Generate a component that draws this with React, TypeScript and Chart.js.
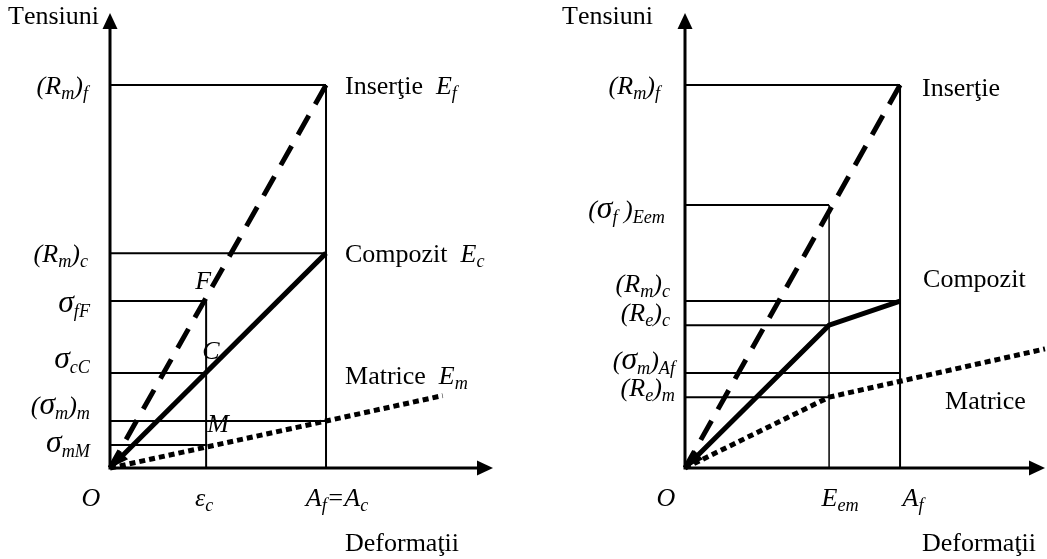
import { useEffect, useRef } from "react";
import { Chart, registerables } from "chart.js";

Chart.register(...registerables);

// ---------- Left diagram: linear-elastic insert, matrix and composite ----------
const L_X_MAX = 17.73;
const L_STRAIN_VALUES = [0, 4.45, 10];
const L_STRAIN_LABELS = ["$O$", "$ε_c$", "$A_f=A_c$"];
const L_STRESS_VALUES = [100, 56.1, 43.6, 24.8, 12.3, 6.0];
const L_STRESS_LABELS = ["$(R_m)_f$", "$(R_m)_c$", "$σ_{fF}$", "$σ_{cC}$", "$(σ_m)_m$", "$σ_{mM}$"];
const L_STRESS_REACH = [10, 10, 4.45, 4.45, 10, 4.45];
const L_VERTICAL_X = [10, 4.45];
const L_VERTICAL_TOP = [100, 43.6];
const L_INSERT_X = [10, 0];
const L_INSERT_Y = [100, 0];
const L_COMPOSITE_X = [0, 10];
const L_COMPOSITE_Y = [0, 56.1];
const L_MATRIX_X = [0, 15.4];
const L_MATRIX_Y = [0, 18.9];
const L_SERIES_NAMES = ["Inserţie  $E_f$", "Compozit  $E_c$", "Matrice  $E_m$"];
const L_POINT_NAMES = ["$F$", "$C$", "$M$"];
const L_POINT_X = [4.45, 4.45, 4.45];
const L_POINT_Y = [43.6, 24.8, 6.0];

// ---------- Right diagram: elastic-plastic matrix ----------
const R_X_MAX = 16.74;
const R_STRAIN_VALUES = [0, 6.7, 10];
const R_STRAIN_LABELS = ["$O$", "$E_{em}$", "$A_f$"];
const R_STRESS_VALUES = [100, 68.7, 43.6, 37.3, 24.8, 18.5];
const R_STRESS_LABELS = ["$(R_m)_f$", "$(σ_f )_{Eem}$", "$(R_m)_c$", "$(R_e)_c$", "$(σ_m)_{Af}$", "$(R_e)_m$"];
const R_STRESS_REACH = [10, 6.7, 10, 6.7, 10, 6.7];
const R_VERTICAL_X = [10, 6.7];
const R_VERTICAL_TOP = [100, 68.7];
const R_INSERT_X = [10, 0];
const R_INSERT_Y = [100, 0];
const R_COMPOSITE_X = [0, 6.7, 10];
const R_COMPOSITE_Y = [0, 37.3, 43.6];
const R_MATRIX_X = [0, 6.7, 16.74];
const R_MATRIX_Y = [0, 18.5, 31.1];
const R_SERIES_NAMES = ["Inserţie", "Compozit", "Matrice"];

const Y_MAX = 118.8;
const Y_TITLE = "Tensiuni";
const X_TITLE = "Deformaţii";

const FONT = "'Liberation Serif', 'Times New Roman', serif";
const SIZE = 26;
const SUB_SCALE = 0.7;
const SUB_DROP = 0.19;
const SIGMA_SCALE = 1.22;

type Run = { text: string; italic: boolean; sub: boolean };

function parseRich(src: string): Run[] {
  const runs: Run[] = [];
  let italic = false;
  let buf = "";
  const flush = () => {
    if (buf) {
      runs.push({ text: buf, italic, sub: false });
      buf = "";
    }
  };
  for (let i = 0; i < src.length; i++) {
    const ch = src[i];
    if (ch === "$") {
      flush();
      italic = !italic;
      continue;
    }
    if (ch === "_") {
      flush();
      let s = "";
      if (src[i + 1] === "{") {
        const end = src.indexOf("}", i + 2);
        s = src.slice(i + 2, end);
        i = end;
      } else {
        s = src[i + 1];
        i++;
      }
      runs.push({ text: s, italic, sub: true });
      continue;
    }
    buf += ch;
  }
  flush();
  return runs;
}

// Draws mixed italic / subscript text; cy is the visual middle of capitals.
function drawRich(
  ctx: CanvasRenderingContext2D,
  src: string,
  x: number,
  cy: number,
  align: "left" | "center" | "right",
  size = SIZE
) {
  const pieces: { ch: string; font: string; w: number; dy: number }[] = [];
  for (const r of parseRich(src)) {
    for (const ch of r.text) {
      let s = r.sub ? size * SUB_SCALE : size;
      if (ch === "σ") s *= SIGMA_SCALE;
      const font = `${r.italic ? "italic " : ""}${s.toFixed(1)}px ${FONT}`;
      ctx.font = font;
      pieces.push({ ch, font, w: ctx.measureText(ch).width, dy: r.sub ? size * SUB_DROP : 0 });
    }
  }
  const total = pieces.reduce((a, p) => a + p.w, 0);
  let cx = align === "left" ? x : align === "center" ? x - total / 2 : x - total;
  const base = cy + size * 0.33;
  ctx.textAlign = "left";
  ctx.textBaseline = "alphabetic";
  ctx.fillStyle = "#000";
  for (const p of pieces) {
    ctx.font = p.font;
    ctx.fillText(p.ch, cx, base + p.dy);
    cx += p.w;
  }
}

function arrowHead(ctx: CanvasRenderingContext2D, tx: number, ty: number, fx: number, fy: number, len: number, half: number) {
  const d = Math.hypot(tx - fx, ty - fy);
  const ux = (tx - fx) / d;
  const uy = (ty - fy) / d;
  const bx = tx - ux * len;
  const by = ty - uy * len;
  ctx.beginPath();
  ctx.moveTo(tx, ty);
  ctx.lineTo(bx - uy * half, by + ux * half);
  ctx.lineTo(bx + uy * half, by - ux * half);
  ctx.closePath();
  ctx.fill();
}

type Layout = {
  stressDx: number[];
  stressDy: number[];
  strainDx: number[];
  seriesAnchorX: number[];
  seriesAnchorY: number[];
  seriesDx: number[];
  seriesDy: number[];
  titleX: number;
  xTitleX: number;
};

type Spec = {
  xMax: number;
  strainValues: number[];
  strainLabels: string[];
  stressValues: number[];
  stressLabels: string[];
  stressReach: number[];
  verticalX: number[];
  verticalTop: number[];
  verticalWidth: number[];
  insertX: number[];
  insertY: number[];
  compositeX: number[];
  compositeY: number[];
  matrixX: number[];
  matrixY: number[];
  seriesNames: string[];
  pointNames?: string[];
  pointX?: number[];
  pointY?: number[];
  pointDx?: number[];
  pointDy?: number[];
  layout: Layout;
  padLeft: number;
  padRight: number;
};

const pts = (xs: number[], ys: number[]) => xs.map((x, i) => ({ x, y: ys[i] }));

function buildConfig(spec: Spec): any {
  const guides = spec.stressValues.map((v, i) => ({
    data: pts([0, spec.stressReach[i]], [v, v]),
    borderColor: "#000",
    borderWidth: 2,
  }));
  const verticals = spec.verticalX.map((x, i) => ({
    data: pts([x, x], [0, spec.verticalTop[i]]),
    borderColor: "#000",
    borderWidth: spec.verticalWidth[i],
  }));
  const series = [
    { data: pts(spec.insertX, spec.insertY), borderColor: "#000", borderWidth: 5, borderDash: [22, 13] },
    { data: pts(spec.compositeX, spec.compositeY), borderColor: "#000", borderWidth: 5 },
    { data: pts(spec.matrixX, spec.matrixY), borderColor: "#000", borderWidth: 5, borderDash: [6, 4] },
  ];
  const datasets = [...guides, ...verticals, ...series].map((d) => ({
    ...d,
    showLine: true,
    pointRadius: 0,
    tension: 0,
    fill: false,
    clip: false,
    borderCapStyle: "butt",
    borderJoinStyle: "miter",
  }));

  const annotate = {
    id: "diagramAnnotations",
    afterDatasetsDraw(chart: any) {
      const ctx: CanvasRenderingContext2D = chart.ctx;
      const xs = chart.scales.x;
      const ys = chart.scales.y;
      const ox = xs.getPixelForValue(0);
      const oy = ys.getPixelForValue(0);
      const topY = ys.getPixelForValue(Y_MAX);
      const endX = xs.getPixelForValue(spec.xMax);
      const L = spec.layout;
      ctx.save();
      ctx.fillStyle = "#000";
      ctx.strokeStyle = "#000";
      ctx.lineWidth = 3;
      ctx.lineCap = "butt";
      // axes with arrows
      ctx.beginPath();
      ctx.moveTo(ox, oy + 1.5);
      ctx.lineTo(ox, topY + 12);
      ctx.moveTo(ox - 1.5, oy);
      ctx.lineTo(endX - 12, oy);
      ctx.stroke();
      arrowHead(ctx, ox, topY, ox, oy, 16, 7.5);
      arrowHead(ctx, endX, oy, ox, oy, 16, 7.5);
      // arrow at the origin on the composite curve
      const cx1 = xs.getPixelForValue(spec.compositeX[1]);
      const cy1 = ys.getPixelForValue(spec.compositeY[1]);
      arrowHead(ctx, ox, oy, cx1, cy1, 19, 6.5);

      // titles
      drawRich(ctx, Y_TITLE, L.titleX, 15, "left");
      drawRich(ctx, X_TITLE, L.xTitleX, 542, "left");

      // stress labels
      spec.stressLabels.forEach((lab, i) => {
        drawRich(ctx, lab, ox + L.stressDx[i], ys.getPixelForValue(spec.stressValues[i]) + L.stressDy[i], "right");
      });
      // strain labels
      spec.strainLabels.forEach((lab, i) => {
        drawRich(ctx, lab, xs.getPixelForValue(spec.strainValues[i]) + L.strainDx[i], oy + 29, "center");
      });
      // series names
      spec.seriesNames.forEach((lab, i) => {
        drawRich(
          ctx,
          lab,
          xs.getPixelForValue(L.seriesAnchorX[i]) + L.seriesDx[i],
          ys.getPixelForValue(L.seriesAnchorY[i]) + L.seriesDy[i],
          "left"
        );
      });
      // point letters
      (spec.pointNames || []).forEach((lab, i) => {
        drawRich(
          ctx,
          lab,
          xs.getPixelForValue(spec.pointX![i]) + spec.pointDx![i],
          ys.getPixelForValue(spec.pointY![i]) + spec.pointDy![i],
          "left"
        );
      });
      ctx.restore();
    },
  };

  return {
    type: "scatter",
    data: { datasets },
    options: {
      animation: false,
      responsive: false,
      devicePixelRatio: 1,
      layout: { padding: { left: spec.padLeft, right: spec.padRight, top: 13, bottom: 91 } },
      plugins: { legend: { display: false }, tooltip: { enabled: false } },
      events: [],
      scales: {
        x: { type: "linear", display: false, min: 0, max: spec.xMax },
        y: { type: "linear", display: false, min: 0, max: Y_MAX },
      },
    },
    plugins: [annotate],
  };
}

const LEFT_SPEC: Spec = {
  xMax: L_X_MAX,
  strainValues: L_STRAIN_VALUES,
  strainLabels: L_STRAIN_LABELS,
  stressValues: L_STRESS_VALUES,
  stressLabels: L_STRESS_LABELS,
  stressReach: L_STRESS_REACH,
  verticalX: L_VERTICAL_X,
  verticalTop: L_VERTICAL_TOP,
  verticalWidth: [2, 2],
  insertX: L_INSERT_X,
  insertY: L_INSERT_Y,
  compositeX: L_COMPOSITE_X,
  compositeY: L_COMPOSITE_Y,
  matrixX: L_MATRIX_X,
  matrixY: L_MATRIX_Y,
  seriesNames: L_SERIES_NAMES,
  pointNames: L_POINT_NAMES,
  pointX: L_POINT_X,
  pointY: L_POINT_Y,
  pointDx: [-11, -4, 1],
  pointDy: [-21, -23, -22],
  padLeft: 110,
  padRight: 67,
  layout: {
    stressDx: [-22, -22, -20, -20, -20, -20],
    stressDy: [0, 0, 2, -14, -15, -2],
    strainDx: [-19, -2, 11],
    seriesAnchorX: [10, 10, 10],
    seriesAnchorY: [100, 56.1, 12.3],
    seriesDx: [19, 19, 19],
    seriesDy: [0, 0, -45],
    titleX: 8,
    xTitleX: 345,
  },
};

const RIGHT_SPEC: Spec = {
  xMax: R_X_MAX,
  strainValues: R_STRAIN_VALUES,
  strainLabels: R_STRAIN_LABELS,
  stressValues: R_STRESS_VALUES,
  stressLabels: R_STRESS_LABELS,
  stressReach: R_STRESS_REACH,
  verticalX: R_VERTICAL_X,
  verticalTop: R_VERTICAL_TOP,
  verticalWidth: [2, 1.5],
  insertX: R_INSERT_X,
  insertY: R_INSERT_Y,
  compositeX: R_COMPOSITE_X,
  compositeY: R_COMPOSITE_Y,
  matrixX: R_MATRIX_X,
  matrixY: R_MATRIX_Y,
  seriesNames: R_SERIES_NAMES,
  padLeft: 125,
  padRight: 2,
  layout: {
    stressDx: [-25, -20, -15, -15, -10, -10],
    stressDy: [0, 5, -18, -13, -13, -10],
    strainDx: [-19, 11, 13],
    seriesAnchorX: [10, 10, 10],
    seriesAnchorY: [100, 43.6, 22.6],
    seriesDx: [22, 23, 45],
    seriesDy: [2, -23, 19],
    titleX: 2,
    xTitleX: 362,
  },
};

function Panel({ spec, left, width }: { spec: Spec; left: number; width: number }) {
  const ref = useRef<HTMLCanvasElement>(null);
  useEffect(() => {
    const chart = new Chart(ref.current as HTMLCanvasElement, buildConfig(spec));
    return () => chart.destroy();
  }, [spec]);
  return (
    <canvas
      ref={ref}
      width={width}
      height={559}
      style={{ position: "absolute", left, top: 0, width, height: 559 }}
    />
  );
}

export default function App() {
  return (
    <div style={{ position: "fixed", left: 0, top: 0, width: 1047, height: 559, background: "#fff", overflow: "hidden" }}>
      <Panel spec={LEFT_SPEC} left={0} width={560} />
      <Panel spec={RIGHT_SPEC} left={560} width={487} />
    </div>
  );
}
